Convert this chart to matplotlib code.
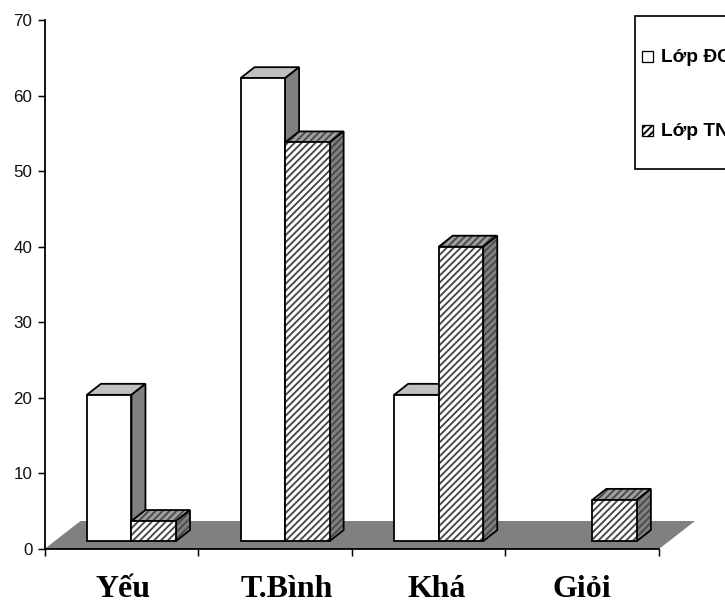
# Grouped pseudo-3D bars for the two classes, by grade level

import matplotlib
matplotlib.use("Agg")
import matplotlib.pyplot as plt
from matplotlib.patches import Polygon, Rectangle
from matplotlib.transforms import blended_transform_factory

categories = ["Yếu", "T.Bình", "Khá", "Giỏi"]
lop_dc = [20.4, 62.3, 20.4, 0]
lop_tn = [3.7, 53.8, 40.0, 6.5]
y_ticks = [0, 10, 20, 30, 40, 50, 60, 70]
legend_labels = ["Lớp ĐC", "Lớp TN"]
label_nudge = [0.013, 0.08, 0.055, 0.0]

plt.rcParams["hatch.linewidth"] = 1.1

# 125 dpi gives the hatch tile the stripe spacing wanted here
W, H = 725, 601
DPI = 125
PX = 72 / DPI
HATCH = "//////"
fig = plt.figure(figsize=(W / DPI, H / DPI), dpi=DPI)
ax = fig.add_axes([44.5 / W, (H - 549) / H, 614.5 / W, 529 / H])
ax.set_xlim(0, 4)
ax.set_ylim(0, 70)

# oblique depth of the boxes and the floor, in data units
dx = 14 / 153.6
dy = 11 / 7.557
floor_dx = 36 / 153.6
floor_dy = 28 / 7.557
base = 1.05
bar_w = 0.29
shift = 0.066


def draw_face(points, color, hatched, z):
    if hatched:
        ax.add_patch(Polygon(points, closed=True, facecolor=color, edgecolor="#4a4a4a",
                             linewidth=0, hatch=HATCH, clip_on=False, zorder=z))
    else:
        ax.add_patch(Polygon(points, closed=True, facecolor=color, edgecolor="none",
                             clip_on=False, zorder=z))
    ax.add_patch(Polygon(points, closed=True, fill=False, edgecolor="black",
                         linewidth=1.8 * PX, clip_on=False, zorder=z, joinstyle="miter"))


def draw_box(x, top, hatched, z):
    if top <= 0:
        return
    x2 = x + bar_w
    draw_face([(x, top), (x2, top), (x2 + dx, top + dy), (x + dx, top + dy)],
              "#a0a0a0" if hatched else "#c0c0c0", hatched, z)
    draw_face([(x2, base), (x2 + dx, base + dy), (x2 + dx, top + dy), (x2, top)],
              "#808080", hatched, z)
    draw_face([(x, base), (x2, base), (x2, top), (x, top)], "white", hatched, z)


# grey floor plane behind the bars
ax.add_patch(Polygon([(0, 0), (4, 0), (4 + floor_dx, floor_dy), (floor_dx, floor_dy)],
                     closed=True, facecolor="#808080", edgecolor="none",
                     clip_on=False, zorder=1))

for i in range(len(categories)):
    centre = i + 0.5 + shift
    draw_box(centre - bar_w, lop_dc[i], False, 3 + 2 * i)
    draw_box(centre, lop_tn[i], True, 4 + 2 * i)

ax.spines["top"].set_visible(False)
ax.spines["right"].set_visible(False)
for side in ["left", "bottom"]:
    ax.spines[side].set_linewidth(1.8 * PX)
    ax.spines[side].set_zorder(2)

ax.set_yticks(y_ticks)
ax.set_yticklabels([str(v) for v in y_ticks], family="Liberation Sans", fontsize=9.8, color="#111111")
ax.tick_params(axis="y", length=7 * PX, width=1.5 * PX, pad=5 * PX)
ax.set_xticks(range(5))
ax.set_xticklabels([])
ax.tick_params(axis="x", length=7 * PX, width=1.5 * PX)

# category names sit well below the axis, baseline given in axes height
label_tf = blended_transform_factory(ax.transData, ax.transAxes)
for i, name in enumerate(categories):
    ax.text(i + 0.5 + label_nudge[i], -0.0907, name, transform=label_tf, ha="center", va="baseline",
            family="Liberation Serif", fontweight="bold", fontsize=18.4, color="black")

# legend box runs off the right side of the figure
fig.add_artist(Rectangle((634.5 / W, (H - 169) / H), 110 / W, 153 / H, transform=fig.transFigure,
                         facecolor="white", edgecolor="black", linewidth=1.7 * PX))
legend_y = [56, 130]
for label, py, hatched in zip(legend_labels, legend_y, [False, True]):
    fig.add_artist(Rectangle((642 / W, (H - py - 5.5) / H), 11 / W, 11 / H, transform=fig.transFigure,
                             facecolor="white", edgecolor="black", linewidth=1.3 * PX,
                             hatch=HATCH if hatched else None))
    fig.text(661 / W, (H - py - 6.5) / H, label, family="Liberation Sans", fontweight="bold",
             fontsize=11, va="baseline", ha="left", color="black")

fig.savefig("out.png", dpi=DPI)
